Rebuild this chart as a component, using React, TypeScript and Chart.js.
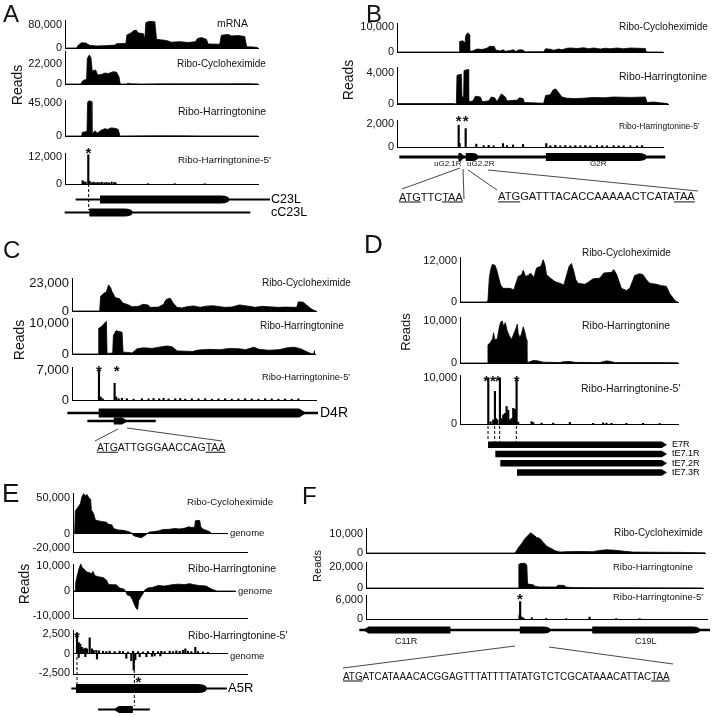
import React, { useEffect, useRef } from 'react';
import { Chart, registerables } from 'chart.js';

Chart.register(...registerables);

const FONT = '"Liberation Sans", Arial, Helvetica, sans-serif';
Chart.defaults.font.family = FONT;
Chart.defaults.color = '#111';

type P = [number, number];
type Feat = [number, number, number]; // [row, start, end]

// ---------------- track names ----------------
const N_MRNA = 'mRNA';
const N_CHX = 'Ribo-Cycloheximide';
const N_HARR = 'Ribo-Harringtonine';
const N_HARR5 = 'Ribo-Harringtonine-5\u2032';
const N_GENOME = 'genome';

// ---------------- Panel A (C23L) ----------------
const A_MRNA: P[] = [[0,0],[35,0],[40,10000],[50,18000],[62,17000],[75,9000],[95,7000],[120,8000],[150,10000],[155,15000],[183,16000],[186,45000],[198,52000],[206,60000],[214,62000],[220,52000],[235,50000],[240,33000],[243,88000],[252,92000],[270,91000],[275,30000],[290,28000],[305,26000],[320,20000],[345,22000],[370,19000],[392,22000],[398,33000],[410,36000],[425,30000],[430,14000],[465,13000],[470,44000],[490,47000],[500,42000],[520,43000],[540,40000],[546,4000],[565,3500],[578,2000],[580,0]];
const A_CHX: P[] = [[0,0],[48,0],[52,3000],[58,4500],[65,5000],[67,28000],[73,32000],[78,29000],[82,14000],[92,15500],[98,10000],[110,10500],[120,12000],[130,11500],[145,13500],[155,13000],[162,8000],[166,0],[185,0],[190,900],[195,300],[230,0],[300,200],[400,150],[560,300],[580,0]];
const A_HARR: P[] = [[0,0],[50,0],[52,5000],[66,6000],[68,46000],[72,48000],[79,47000],[81,2000],[90,7000],[97,4000],[110,8000],[120,10000],[128,9000],[138,11000],[150,10500],[160,9000],[165,0],[250,200],[300,300],[350,200],[400,100],[580,0]];
const A_HARR5: P[] = [[53,1500],[57,800],[62,900],[70,13000],[74,1200],[80,600],[86,800],[92,500],[98,700],[104,500],[110,800],[118,600],[125,700],[132,500],[140,900],[148,700],[152,500],[250,150],[330,120],[420,100]];
const A_TICKS_MRNA = [0, 80000];
const A_TICKS_CHX = [0, 22000];
const A_TICKS_HARR = [0, 45000];
const A_TICKS_HARR5 = [0, 12000];
const A_ROWS = ['C23L', 'cC23L'];
const A_TX: Feat[] = [[0,33,615],[1,0,555]];
const A_ORF: Feat[] = [[0,105,493],[1,73,203]];
const A_STARTS = [70];

// ---------------- Panel B (G2R) ----------------
const B_CHX: P[] = [[0,0],[186,0],[188,4200],[198,4500],[201,4000],[203,1500],[206,6500],[212,7700],[216,7000],[218,500],[225,300],[240,1200],[255,1000],[270,1500],[278,2300],[292,2200],[296,800],[310,400],[318,900],[325,300],[340,600],[350,900],[356,200],[365,800],[375,900],[385,100],[440,100],[446,1300],[460,1100],[470,700],[485,1200],[495,900],[510,1500],[520,1600],[540,1400],[560,1700],[575,1300],[590,1600],[610,1200],[625,1500],[640,1300],[660,1600],[680,1300],[700,1600],[745,1400],[748,0],[798,0]];
const B_HARR: P[] = [[0,50],[170,50],[178,0],[180,3700],[193,3850],[195,900],[200,900],[201,4300],[213,4450],[215,300],[228,400],[235,1000],[250,900],[256,300],[275,400],[283,900],[293,800],[300,300],[313,1300],[325,900],[330,400],[360,500],[368,800],[378,700],[382,200],[405,150],[440,100],[446,1100],[460,1200],[468,1800],[476,1950],[486,1400],[495,900],[510,750],[530,700],[560,750],[590,850],[620,800],[650,900],[700,850],[745,900],[750,200],[770,250],[790,150],[813,50]];
const B_HARR5: P[] = [[185,1900],[188,300],[206,1600],[238,250],[260,120],[275,150],[290,100],[318,300],[330,120],[348,180],[378,220],[448,300],[460,120],[475,150],[490,100],[505,130],[520,100],[535,120],[550,110],[565,130],[580,100],[600,120],[615,110],[630,100],[650,120],[665,100],[680,110],[700,100],[720,90],[735,120]];
const B_TICKS_CHX = [0, 10000];
const B_TICKS_HARR = [0, 4000];
const B_TICKS_HARR5 = [0, 2000];
const B_ROWS = ['G2'];
const B_TX: Feat[] = [[0,8,803]];
const B_ORF: Feat[] = [[0,184,203],[0,206,243],[0,446,748]];
const B_ORF_NAMES = ['uG2.1R', 'uG2.2R', 'G2R'];
const B_STARTS = [185, 206];
const B_SEQ1 = 'ATGTTCTAA';
const B_SEQ2 = 'ATGGATTTACACCAAAAACTCATATAA';

// ---------------- Panel C (D4R) ----------------
const C_CHX: P[] = [[0,0],[83,0],[86,12000],[95,14500],[103,15500],[110,21500],[116,19000],[120,16000],[130,11000],[143,10000],[153,6500],[170,5000],[180,3500],[200,3800],[213,5500],[228,5000],[235,3000],[260,3200],[275,5500],[283,9500],[295,10500],[303,7000],[315,3000],[330,2500],[345,3500],[365,4200],[385,3000],[403,4000],[425,4300],[445,3500],[460,3000],[480,3300],[503,5000],[530,4000],[550,3000],[570,3800],[590,3500],[620,3000],[640,3200],[675,3000],[680,7500],[695,7200],[705,4800],[715,2500],[725,800],[733,0]];
const C_HARR: P[] = [[0,0],[78,0],[80,8300],[88,8800],[96,9800],[103,10500],[105,200],[122,300],[124,6000],[132,7500],[150,7000],[153,600],[170,500],[180,300],[195,1700],[215,2000],[240,1800],[260,2200],[285,2600],[300,2300],[315,1000],[340,900],[360,800],[380,1300],[410,1500],[445,1400],[470,1800],[500,1700],[520,1400],[545,2200],[560,1500],[590,1200],[620,1400],[645,2000],[665,2200],[685,1700],[700,900],[715,200],[724,100],[727,1100],[728,0]];
const C_HARR5: P[] = [[81,6850],[86,700],[92,300],[128,3900],[133,700],[140,300],[150,400],[165,300],[185,200],[210,300],[230,250],[245,350],[262,300],[275,400],[290,250],[310,300],[325,350],[340,200],[360,300],[380,250],[400,300],[420,200],[440,250],[460,300],[480,200],[500,250],[520,300],[540,250],[560,200],[580,300],[600,250],[620,200],[640,250],[660,200],[680,250]];
const C_TICKS_CHX = [0, 23000];
const C_TICKS_HARR = [0, 10000];
const C_TICKS_HARR5 = [0, 7000];
const C_ROWS = ['D4R', ' '];
const C_TX: Feat[] = [[0,-12,738],[1,48,251]];
const C_ORF: Feat[] = [[0,81,703],[1,126,168]];
const C_STARTS = [81, 128];
const C_SEQ = 'ATGATTGGGAACCAGTAA';

// ---------------- Panel D (E7R) ----------------
const D_CHX: P[] = [[0,0],[80,0],[84,500],[88,7000],[92,9500],[97,11000],[105,10800],[110,9500],[118,6500],[122,5000],[130,4000],[150,4000],[162,3600],[168,5500],[175,7500],[185,8000],[190,9300],[197,7500],[205,7800],[212,8500],[222,7200],[230,10000],[243,10500],[250,12400],[255,11000],[260,8000],[272,7000],[285,6000],[300,5500],[312,5000],[320,7800],[328,10500],[335,11300],[342,9000],[348,6500],[355,5500],[375,5200],[385,5800],[400,6800],[420,7000],[432,8500],[455,8700],[462,9500],[470,8200],[478,6000],[485,4000],[500,3400],[510,4000],[518,6000],[525,7800],[540,8300],[550,8000],[560,6500],[570,5500],[590,5200],[605,4800],[620,4600],[630,2500],[645,500],[652,0],[655,0]];
const D_HARR: P[] = [[0,0],[82,0],[84,4300],[92,5000],[98,5800],[101,7200],[104,5600],[112,5700],[118,8500],[122,9700],[127,10000],[131,8700],[136,9600],[142,7600],[148,6500],[155,5600],[162,7000],[168,8200],[172,9200],[175,7000],[180,6000],[185,7000],[190,8600],[195,7300],[200,5500],[201,100],[210,300],[220,600],[235,500],[250,200],[270,150],[300,100],[310,300],[330,350],[345,150],[420,100],[440,500],[450,400],[465,100],[600,100],[655,50]];
const D_HARR5: P[] = [[85,10000],[92,500],[100,900],[105,7100],[108,1200],[112,900],[120,10000],[125,1200],[130,2000],[135,2300],[140,3800],[145,3000],[150,900],[155,1200],[160,3400],[165,3200],[170,10000],[175,400],[215,500],[220,300],[245,200],[280,200],[330,350],[400,150],[430,250],[440,200],[455,150],[500,150],[550,150],[600,100]];
const D_TICKS_CHX = [0, 12000];
const D_TICKS_HARR = [0, 10000];
const D_TICKS_HARR5 = [0, 10000];
const D_ROWS = ['E7R', 'tE7.1R', 'tE7.2R', 'tE7.3R'];
const D_TX: Feat[] = [];
const D_ORF: Feat[] = [[0,83,620],[1,105,620],[2,120,620],[3,170,620]];
const D_STARTS = [85, 105, 120, 170];

// ---------------- Panel E (A5R) ----------------
const E_CHX: P[] = [[0,0],[5,0],[7,32000],[15,37000],[22,42000],[27,52000],[32,56000],[37,53000],[42,55000],[48,50000],[53,48000],[55,33000],[62,28000],[67,19000],[75,18000],[85,17000],[100,16000],[107,13000],[117,12000],[122,7000],[135,5000],[150,4500],[165,3000],[175,1000],[182,-3000],[192,-4500],[205,-5800],[212,-4000],[220,-1500],[228,2000],[240,2500],[255,3500],[270,5500],[290,6000],[305,7000],[320,6500],[335,7500],[347,9500],[355,8500],[365,9000],[367,18000],[380,18500],[383,10000],[390,6000],[400,4500],[410,2500],[415,0],[522,0]];
const E_HARR: P[] = [[0,0],[6,0],[8,3400],[14,7000],[19,9500],[23,11000],[28,9500],[33,9000],[40,7800],[48,7500],[55,7000],[60,8000],[65,6300],[75,5800],[90,5500],[100,4500],[107,2600],[130,2500],[140,1200],[152,800],[158,0],[162,-1500],[172,-2000],[178,-3500],[184,-5500],[190,-7200],[194,-7500],[197,-4000],[203,-2500],[210,-1000],[216,500],[225,1200],[240,1500],[255,2200],[275,2000],[295,2500],[315,2800],[335,2600],[350,3000],[365,2500],[380,2200],[400,2000],[410,1200],[420,500],[432,0],[522,0]];
const E_HARR5_FWD: P[] = [[12,2600],[17,1400],[22,1200],[27,800],[32,600],[37,700],[42,600],[50,2000],[57,600],[62,400],[70,400],[78,350],[90,300],[100,250],[110,300],[125,250],[140,300],[150,250],[165,200],[180,300],[195,250],[210,200],[225,250],[240,300],[255,250],[265,300],[275,250],[290,300],[300,250],[310,350],[320,300],[330,400],[337,600],[345,300],[355,250],[367,800],[375,250],[390,200],[405,150]];
const E_HARR5_REV: P[] = [[17,-500],[37,-400],[72,-700],[160,-600],[175,-900],[182,-2100],[187,-800],[200,-400],[220,-400],[237,-350],[245,-300],[262,-300]];
const E_TICKS_CHX = [-20000, 0, 50000];
const E_TICKS_HARR = [-10000, 0, 10000];
const E_TICKS_HARR5 = [-2500, 0, 2500];
const E_ROWS = ['A5R', ' '];
const E_TX: Feat[] = [[0,-3,462],[1,77,230]];
const E_ORF: Feat[] = [[0,10,402],[1,122,180]];
const E_STARTS = [12, 184];

// ---------------- Panel F (C11R / C19L) ----------------
const F_CHX: P[] = [[0,0],[445,0],[450,600],[457,2800],[467,5000],[477,7700],[487,9400],[494,10700],[502,9600],[512,8200],[522,7700],[530,5900],[542,3600],[557,2300],[567,1200],[582,500],[600,700],[640,800],[680,700],[700,1300],[722,1700],[750,1400],[775,900],[800,500],[850,400],[950,300],[1017,100]];
const F_HARR: P[] = [[0,0],[457,0],[459,22500],[465,23500],[477,23500],[483,22000],[485,4200],[490,3500],[502,3000],[507,1600],[520,1000],[570,900],[577,2600],[595,2500],[600,900],[620,400],[700,300],[800,250],[1012,100]];
const F_HARR5: P[] = [[460,1200],[462,5500],[467,600],[472,300],[497,400],[540,150],[600,120],[670,600],[750,120],[820,100]];
const F_TICKS_CHX = [0, 10000];
const F_TICKS_HARR = [0, 20000];
const F_TICKS_HARR5 = [0, 6000];
const F_ROWS = ['F'];
const F_TX: Feat[] = [[0,-18,1032]];
const F_ORF: Feat[] = [[0,-8,254],[0,462,554],[0,679,1002]];
const F_ORF_NAMES = ['C11R', 'C19L'];
const F_STARTS = [462];
const F_SEQ = 'ATGATCATAAACACGGAGTTTATTTTATATGTCTCGCATAAACATTACTAA';

// ================= layout / styling =================
const UNIT = 3; // position units per screen pixel
const AXW = 50;
const PAD = 8;
const GPAD = 10;

type TrackSpec = {
  kind: 'area' | 'spike';
  series: P[][];
  ticks: number[];
  yMin: number; yMax: number; xMax: number;
  axisX: number; top: number; bottom: number;
  tickSize: number; zero?: boolean;
};

type GeneSpec = {
  rows: string[]; tx: Feat[]; orf: Feat[];
  shapes: string[]; heights: number[]; lineW: number;
  xMin: number; xMax: number; axisX: number; rowTop: number; rowGap: number;
  labelSize: number; labelW: number; labelPad: number;
};

const AX = { A: 65, B: 397, C: 72, D: 460, E: 73, F: 366 };
const px = (panel: keyof typeof AX, pos: number) => AX[panel] + pos / UNIT;

const TRACKS: TrackSpec[] = [
  { kind: 'area', series: [A_MRNA], ticks: A_TICKS_MRNA, yMin: 0, yMax: 97000, xMax: 580, axisX: AX.A, top: 20, bottom: 48, tickSize: 11 },
  { kind: 'area', series: [A_CHX], ticks: A_TICKS_CHX, yMin: 0, yMax: 36300, xMax: 580, axisX: AX.A, top: 51, bottom: 84, tickSize: 11 },
  { kind: 'area', series: [A_HARR], ticks: A_TICKS_HARR, yMin: 0, yMax: 49000, xMax: 580, axisX: AX.A, top: 100, bottom: 136, tickSize: 11 },
  { kind: 'spike', series: [A_HARR5], ticks: A_TICKS_HARR5, yMin: 0, yMax: 13800, xMax: 580, axisX: AX.A, top: 153, bottom: 184, tickSize: 11 },

  { kind: 'area', series: [B_CHX], ticks: B_TICKS_CHX, yMin: 0, yMax: 11600, xMax: 798, axisX: AX.B, top: 23, bottom: 52, tickSize: 11 },
  { kind: 'area', series: [B_HARR], ticks: B_TICKS_HARR, yMin: 0, yMax: 4770, xMax: 813, axisX: AX.B, top: 67, bottom: 104, tickSize: 11 },
  { kind: 'spike', series: [B_HARR5], ticks: B_TICKS_HARR5, yMin: 0, yMax: 2350, xMax: 798, axisX: AX.B, top: 120, bottom: 147, tickSize: 11 },

  { kind: 'area', series: [C_CHX], ticks: C_TICKS_CHX, yMin: 0, yMax: 27100, xMax: 733, axisX: AX.C, top: 278, bottom: 311, tickSize: 13 },
  { kind: 'area', series: [C_HARR], ticks: C_TICKS_HARR, yMin: 0, yMax: 11600, xMax: 728, axisX: AX.C, top: 318, bottom: 354, tickSize: 13 },
  { kind: 'spike', series: [C_HARR5], ticks: C_TICKS_HARR5, yMin: 0, yMax: 7700, xMax: 733, axisX: AX.C, top: 367, bottom: 400, tickSize: 13 },

  { kind: 'area', series: [D_CHX], ticks: D_TICKS_CHX, yMin: 0, yMax: 13200, xMax: 655, axisX: AX.D, top: 257, bottom: 302, tickSize: 11 },
  { kind: 'area', series: [D_HARR], ticks: D_TICKS_HARR, yMin: 0, yMax: 10950, xMax: 655, axisX: AX.D, top: 317, bottom: 363, tickSize: 11 },
  { kind: 'spike', series: [D_HARR5], ticks: D_TICKS_HARR5, yMin: 0, yMax: 10650, xMax: 655, axisX: AX.D, top: 375, bottom: 424, tickSize: 11 },

  { kind: 'area', series: [E_CHX], ticks: E_TICKS_CHX, yMin: -26000, yMax: 57000, xMax: 522, axisX: AX.E, top: 493, bottom: 552, tickSize: 11, zero: true },
  { kind: 'area', series: [E_HARR], ticks: E_TICKS_HARR, yMin: -11000, yMax: 11000, xMax: 522, axisX: AX.E, top: 564, bottom: 618, tickSize: 11, zero: true },
  { kind: 'spike', series: [E_HARR5_FWD, E_HARR5_REV], ticks: E_TICKS_HARR5, yMin: -2600, yMax: 3000, xMax: 522, axisX: AX.E, top: 630, bottom: 674, tickSize: 11, zero: true },

  { kind: 'area', series: [F_CHX], ticks: F_TICKS_CHX, yMin: 0, yMax: 13200, xMax: 1017, axisX: AX.F, top: 528, bottom: 553, tickSize: 11 },
  { kind: 'area', series: [F_HARR], ticks: F_TICKS_HARR, yMin: 0, yMax: 24800, xMax: 1012, axisX: AX.F, top: 562, bottom: 588, tickSize: 11 },
  { kind: 'spike', series: [F_HARR5], ticks: F_TICKS_HARR5, yMin: 0, yMax: 7600, xMax: 1022, axisX: AX.F, top: 595, bottom: 619, tickSize: 11 },
];

const GENES: GeneSpec[] = [
  { rows: A_ROWS, tx: A_TX, orf: A_ORF, shapes: ['roundR', 'roundR'], heights: [8, 8], lineW: 1.5, xMin: -3, xMax: 615, axisX: AX.A, rowTop: 192.5, rowGap: 13, labelSize: 12.5, labelW: 50, labelPad: 1 },
  { rows: B_ROWS, tx: B_TX, orf: B_ORF, shapes: ['arrowR', 'roundR', 'roundR'], heights: [8, 8, 8], lineW: 2.5, xMin: 0, xMax: 806, axisX: AX.B, rowTop: 153, rowGap: 8, labelSize: 9, labelW: 0, labelPad: 0 },
  { rows: C_ROWS, tx: C_TX, orf: C_ORF, shapes: ['arrowR', 'arrowR'], heights: [9, 7], lineW: 2, xMin: -14, xMax: 738, axisX: AX.C, rowTop: 409, rowGap: 8, labelSize: 14, labelW: 42, labelPad: 2 },
  { rows: D_ROWS, tx: D_TX, orf: D_ORF, shapes: ['arrowR', 'arrowR', 'arrowR', 'arrowR'], heights: [6.5, 6.5, 6.5, 6.5], lineW: 1, xMin: 80, xMax: 620, axisX: AX.D, rowTop: 440, rowGap: 9.33, labelSize: 9, labelW: 40, labelPad: 5 },
  { rows: E_ROWS, tx: E_TX, orf: E_ORF, shapes: ['roundR', 'arrowL'], heights: [9, 7], lineW: 1.5, xMin: -5, xMax: 462, axisX: AX.E, rowTop: 677.5, rowGap: 21, labelSize: 13, labelW: 40, labelPad: 1 },
  { rows: F_ROWS, tx: F_TX, orf: F_ORF, shapes: ['arrowL', 'roundR', 'roundR'], heights: [7, 7, 7], lineW: 2, xMin: -20, xMax: 1032, axisX: AX.F, rowTop: 626, rowGap: 8, labelSize: 9, labelW: 0, labelPad: 0 },
];

// ================= chart builders =================
function trackConfig(t: TrackSpec): any {
  const isArea = t.kind === 'area';
  const datasets = t.series.map((s) =>
    isArea
      ? { type: 'line', data: s.map(([x, y]) => ({ x, y })), borderColor: '#000', borderWidth: 0.8, backgroundColor: '#000', fill: 'origin', pointRadius: 0, tension: 0 }
      : { type: 'bar', data: s.map(([x, y]) => ({ x, y })), backgroundColor: '#000', borderWidth: 0, barThickness: 1.5, grouped: false }
  );
  return {
    type: isArea ? 'line' : 'bar',
    data: { datasets },
    options: {
      responsive: false,
      animation: false,
      events: [],
      layout: { padding: { top: PAD, bottom: PAD, left: 0, right: 3 } },
      plugins: { legend: { display: false }, tooltip: { enabled: false }, title: { display: false } },
      scales: {
        x: {
          type: 'linear', min: 0, max: t.xMax, offset: false, display: true,
          grid: { display: false, drawTicks: false },
          border: { display: true, color: '#000', width: 1 },
          ticks: { display: false },
          afterFit: (s: any) => { s.height = 0; s.paddingLeft = 0; s.paddingRight = 0; },
        },
        y: {
          type: 'linear', min: t.yMin, max: t.yMax,
          grid: { display: !!t.zero, drawTicks: false, lineWidth: 1, color: (c: any) => (c.tick && c.tick.value === 0 ? '#000' : 'rgba(0,0,0,0)') },
          border: { display: true, color: '#000', width: 1 },
          ticks: { autoSkip: false, padding: 3, color: '#111', font: { size: t.tickSize, family: FONT }, callback: (v: any) => Number(v).toLocaleString('en-US') },
          afterBuildTicks: (s: any) => { s.ticks = t.ticks.map((v) => ({ value: v })); },
          afterFit: (s: any) => { s.width = AXW; s.paddingTop = 0; s.paddingBottom = 0; },
        },
      },
    },
  };
}

function drawOrf(ctx: CanvasRenderingContext2D, x0: number, x1: number, yc: number, h: number, shape: string) {
  const t = h / 2;
  const tip = Math.min(h * 0.8, (x1 - x0) * 0.6);
  ctx.beginPath();
  if (shape === 'arrowR') {
    ctx.moveTo(x0, yc - t); ctx.lineTo(x1 - tip, yc - t); ctx.lineTo(x1, yc); ctx.lineTo(x1 - tip, yc + t); ctx.lineTo(x0, yc + t);
  } else if (shape === 'arrowL') {
    ctx.moveTo(x1, yc - t); ctx.lineTo(x0 + tip, yc - t); ctx.lineTo(x0, yc); ctx.lineTo(x0 + tip, yc + t); ctx.lineTo(x1, yc + t);
  } else if (shape === 'roundR') {
    const r = Math.min(h * 1.1, (x1 - x0) * 0.5);
    ctx.moveTo(x0, yc - t); ctx.lineTo(x1 - r, yc - t);
    ctx.quadraticCurveTo(x1, yc - t, x1, yc);
    ctx.quadraticCurveTo(x1, yc + t, x1 - r, yc + t);
    ctx.lineTo(x0, yc + t);
  } else {
    ctx.rect(x0, yc - t, x1 - x0, h);
  }
  ctx.closePath();
  ctx.fill();
}

function orfPlugin(shapes: string[], heights: number[]) {
  return {
    id: 'orfShapes',
    afterDatasetsDraw(chart: any) {
      const meta = chart.getDatasetMeta(1);
      const ctx = chart.ctx;
      ctx.save();
      ctx.fillStyle = '#000';
      meta.data.forEach((el: any, i: number) => {
        const p = el.getProps(['x', 'base', 'y'], true);
        drawOrf(ctx, Math.min(p.x, p.base), Math.max(p.x, p.base), p.y, heights[i], shapes[i]);
      });
      ctx.restore();
    },
  };
}

function geneConfig(g: GeneSpec): any {
  return {
    type: 'bar',
    data: {
      labels: g.rows,
      datasets: [
        { data: g.tx.map(([r, s, e]) => ({ y: g.rows[r], x: [s, e] })), backgroundColor: '#000', borderWidth: 0, barThickness: g.lineW, grouped: false },
        { data: g.orf.map(([r, s, e]) => ({ y: g.rows[r], x: [s, e] })), backgroundColor: 'rgba(0,0,0,0)', borderWidth: 0, barThickness: 2, grouped: false },
      ],
    },
    options: {
      indexAxis: 'y',
      responsive: false,
      animation: false,
      events: [],
      layout: { padding: { top: GPAD, bottom: GPAD, left: 0, right: 0 } },
      plugins: { legend: { display: false }, tooltip: { enabled: false } },
      scales: {
        x: { type: 'linear', min: g.xMin, max: g.xMax, display: false, offset: false },
        y: {
          type: 'category', position: 'right', offset: true, display: g.labelW > 0,
          grid: { display: false, drawTicks: false }, border: { display: false },
          ticks: { autoSkip: false, padding: g.labelPad, color: '#000', font: { size: g.labelSize, family: FONT } },
          afterFit: (s: any) => { s.width = g.labelW; s.paddingTop = 0; s.paddingBottom = 0; },
        },
      },
    },
    plugins: [orfPlugin(g.shapes, g.heights)],
  };
}

function Track({ t }: { t: TrackSpec }) {
  const ref = useRef<HTMLCanvasElement>(null);
  const w = Math.round(AXW + t.xMax / UNIT + 3);
  const h = Math.round(t.bottom - t.top + 2 * PAD);
  useEffect(() => {
    const c = new Chart(ref.current as HTMLCanvasElement, trackConfig(t));
    return () => c.destroy();
  }, []);
  return <canvas ref={ref} width={w} height={h} style={{ position: 'absolute', left: t.axisX - AXW, top: t.top - PAD, width: w, height: h }} />;
}

function Genes({ g }: { g: GeneSpec }) {
  const ref = useRef<HTMLCanvasElement>(null);
  const w = Math.round((g.xMax - g.xMin) / UNIT + g.labelW);
  const h = Math.round(g.rows.length * g.rowGap + 2 * GPAD);
  useEffect(() => {
    const c = new Chart(ref.current as HTMLCanvasElement, geneConfig(g));
    return () => c.destroy();
  }, []);
  return <canvas ref={ref} width={w} height={h} style={{ position: 'absolute', left: g.axisX + g.xMin / UNIT, top: g.rowTop - GPAD, width: w, height: h }} />;
}

// ================= text overlays =================
const Txt = ({ x, y, s, children, bg, anchor, style }: any) => (
  <div
    style={{
      position: 'absolute', left: x, top: y,
      transform: `translate(${anchor === 'center' ? '-50%' : anchor === 'right' ? '-100%' : '0'}, -50%)`,
      fontSize: s, lineHeight: 1, whiteSpace: 'nowrap', fontFamily: FONT, color: '#111',
      background: bg ? '#fff' : undefined, ...(style || {}),
    }}
  >
    {children}
  </div>
);

const Letter = ({ x, y, s, children }: any) => (
  <div style={{ position: 'absolute', left: x, top: y, transform: 'translateY(-50%)', fontSize: s, lineHeight: 1, fontFamily: FONT, color: '#111' }}>{children}</div>
);

const Reads = ({ x, y, s }: any) => (
  <div style={{ position: 'absolute', left: x, top: y, transform: 'translate(-50%,-50%) rotate(-90deg)', fontSize: s, lineHeight: 1, whiteSpace: 'nowrap', fontFamily: FONT, color: '#111' }}>Reads</div>
);

const Star = ({ x, y }: any) => (
  <div style={{ position: 'absolute', left: x, top: y - 4, transform: 'translateX(-50%)', fontSize: 15, lineHeight: 1, fontFamily: FONT, fontWeight: 'bold', color: '#111' }}>*</div>
);

const Seq = ({ x, y, s, seq, sx }: any) => (
  <div style={{ position: 'absolute', left: x, top: y, transform: `translateY(-50%) scaleX(${sx || 1})`, transformOrigin: 'left center', fontSize: s, lineHeight: 1, whiteSpace: 'nowrap', fontFamily: FONT, color: '#111' }}>
    <u>{seq.slice(0, 3)}</u>{seq.slice(3, seq.length - 3)}<u>{seq.slice(seq.length - 3)}</u>
  </div>
);

export default function App() {
  const dash = (x: number, y1: number, y2: number, k: string) => (
    <line key={k} x1={x} y1={y1} x2={x} y2={y2} stroke="#000" strokeWidth={1} strokeDasharray="3 2" />
  );
  const seg = (x1: number, y1: number, x2: number, y2: number, k: string) => (
    <line key={k} x1={x1} y1={y1} x2={x2} y2={y2} stroke="#333" strokeWidth={0.9} />
  );
  return (
    <div style={{ position: 'fixed', left: 0, top: 0, width: 720, height: 717, overflow: 'hidden', background: '#fff', fontFamily: FONT }}>
      {TRACKS.map((t, i) => <Track key={'t' + i} t={t} />)}
      {GENES.map((g, i) => <Genes key={'g' + i} g={g} />)}

      <svg width={720} height={717} style={{ position: 'absolute', left: 0, top: 0, pointerEvents: 'none' }}>
        {A_STARTS.map((p, i) => dash(px('A', p + 1), 184, 210, 'da' + i))}
        {D_STARTS.map((p, i) => dash(px('D', p - 1), 426, 441 + i * 2, 'dd' + i))}
        {dash(px('E', E_STARTS[0]), 657, 684, 'de0')}
        {dash(px('E', E_STARTS[1]), 660, 706, 'de1')}
        {seg(460, 168, 402, 189, 'b1')}
        {seg(463, 169, 464, 199, 'b2')}
        {seg(468, 170, 497, 190, 'b3')}
        {seg(488, 170, 698, 191, 'b4')}
        {seg(118, 429, 95, 441, 'c1')}
        {seg(127, 428, 222, 441, 'c2')}
        {seg(515, 646, 343, 668, 'f1')}
        {seg(549, 647, 673, 664, 'f2')}
      </svg>

      {/* Panel letters */}
      <Letter x={3} y={13.5} s={24}>A</Letter>
      <Letter x={366} y={13.5} s={24}>B</Letter>
      <Letter x={3} y={250} s={24}>C</Letter>
      <Letter x={364} y={244} s={26}>D</Letter>
      <Letter x={2} y={493} s={26}>E</Letter>
      <Letter x={302} y={496} s={24}>F</Letter>

      {/* Reads labels */}
      <Reads x={17} y={85} s={14} />
      <Reads x={348} y={80} s={14} />
      <Reads x={19} y={340} s={14} />
      <Reads x={405} y={332} s={13} />
      <Reads x={24} y={584} s={14} />
      <Reads x={317} y={566} s={11} />

      {/* Panel A labels */}
      <Txt x={217} y={23} s={10.5}>{N_MRNA}</Txt>
      <Txt x={177} y={64} s={10}>{N_CHX}</Txt>
      <Txt x={178} y={111} s={10.5}>{N_HARR}</Txt>
      <Txt x={178} y={160} s={9.8}>{N_HARR5}</Txt>
      {A_STARTS.map((p, i) => <Star key={'sa' + i} x={px('A', p)} y={149} />)}

      {/* Panel B labels */}
      <Txt x={619} y={27} s={10}>{N_CHX}</Txt>
      <Txt x={619} y={76} s={10.5}>{N_HARR}</Txt>
      <Txt x={619} y={126} s={8.5}>{N_HARR5}</Txt>
      {B_STARTS.map((p, i) => <Star key={'sb' + i} x={px('B', p)} y={117} />)}
      <Txt x={434} y={164} s={8}>{B_ORF_NAMES[0]}</Txt>
      <Txt x={467} y={164} s={8}>{B_ORF_NAMES[1]}</Txt>
      <Txt x={590} y={164} s={8}>{B_ORF_NAMES[2]}</Txt>
      <Seq x={399} y={197} s={11} seq={B_SEQ1} />
      <Seq x={498} y={197} s={11.2} seq={B_SEQ2} />

      {/* Panel C labels */}
      <Txt x={262} y={283} s={10}>{N_CHX}</Txt>
      <Txt x={260} y={326} s={10}>{N_HARR}</Txt>
      <Txt x={262} y={378} s={9.3}>{N_HARR5}</Txt>
      {C_STARTS.map((p, i) => <Star key={'sc' + i} x={px('C', p) + i * 2} y={367} />)}
      <Seq x={97} y={447} s={10.5} seq={C_SEQ} />

      {/* Panel D labels */}
      <Txt x={582} y={253} s={10}>{N_CHX}</Txt>
      <Txt x={582} y={325} s={10.5}>{N_HARR}</Txt>
      <Txt x={581} y={388} s={10.5}>{N_HARR5}</Txt>
      {D_STARTS.map((p, i) => <Star key={'sd' + i} x={px('D', p) - (i < 3 ? 2 : 0)} y={377} />)}

      {/* Panel E labels */}
      <Txt x={187} y={502} s={9.7}>{N_CHX}</Txt>
      <Txt x={188} y={568} s={10.5}>{N_HARR}</Txt>
      <Txt x={188} y={635} s={10.5}>{N_HARR5}</Txt>
      <Txt x={228} y={533} s={9.5} bg style={{ paddingLeft: 2 }}>{N_GENOME}</Txt>
      <Txt x={236} y={591} s={9.5} bg style={{ paddingLeft: 2 }}>{N_GENOME}</Txt>
      <Txt x={228} y={656} s={9.5} bg style={{ paddingLeft: 2 }}>{N_GENOME}</Txt>
      <Star x={px('E', E_STARTS[0])} y={633} />
      <Star x={px('E', E_STARTS[1]) + 4} y={678} />

      {/* Panel F labels */}
      <Txt x={614} y={533} s={10}>{N_CHX}</Txt>
      <Txt x={613} y={567} s={9.5}>{N_HARR}</Txt>
      <Txt x={613} y={597} s={9.5}>{N_HARR5}</Txt>
      {F_STARTS.map((p, i) => <Star key={'sf' + i} x={px('F', p)} y={595} />)}
      <Txt x={395} y={641} s={9}>{F_ORF_NAMES[0]}</Txt>
      <Txt x={635} y={641} s={9}>{F_ORF_NAMES[1]}</Txt>
      <Seq x={343} y={676} s={11} sx={0.9} seq={F_SEQ} />
    </div>
  );
}
